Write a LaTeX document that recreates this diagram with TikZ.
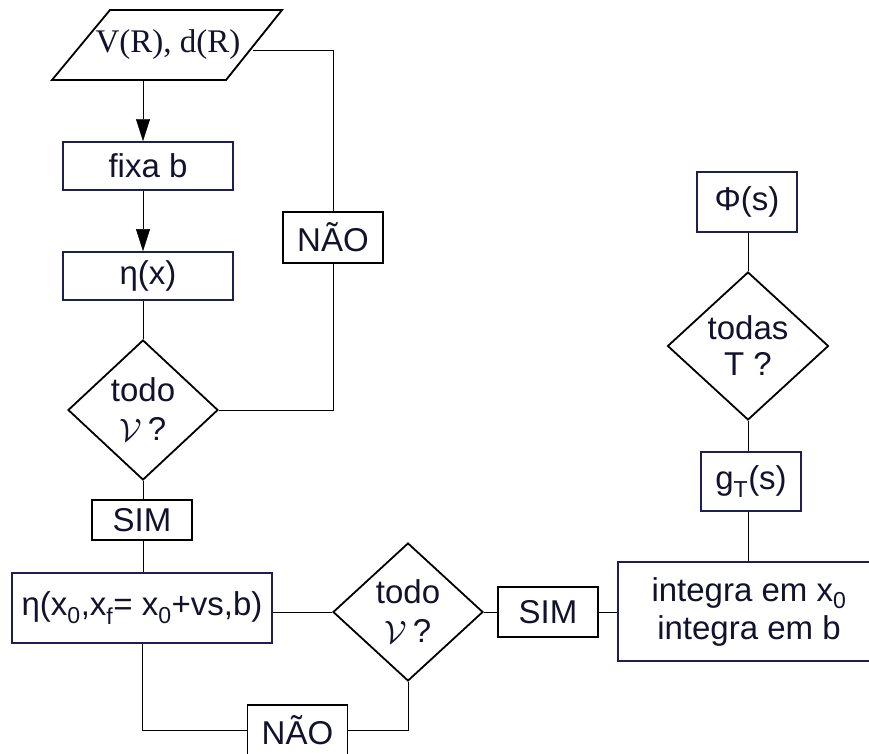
\documentclass[tikz,border=0pt]{standalone}
\usepackage{fontspec}
\setmainfont{Liberation Sans}
\newfontfamily\serifface{Liberation Serif}
\usetikzlibrary{shapes.geometric,arrows.meta,backgrounds}
\definecolor{ink}{HTML}{12122E}
\definecolor{navy}{HTML}{1E1E50}
\newcommand{\bigV}{\raisebox{-1pt}{\scalebox{1.3}{$\mathcal{V}$}}}
\begin{document}
\begin{tikzpicture}[x=1pt,y=-1pt,line width=1.8pt,
  every node/.style={font=\fontsize{33}{38}\selectfont, text=ink, inner sep=0pt, align=center},
  proc/.style={draw=navy, fill=white, rectangle},
  lbl/.style={draw=black, fill=white, rectangle, minimum width=100pt, minimum height=50pt},
  dec/.style={draw=black, fill=white, diamond},
  conn/.style={draw=black},
  arr/.style={draw=black, -{Triangle[length=22pt,width=14pt]}}]
\useasboundingbox (0,0) rectangle (869,754);
% input parallelogram
\draw[black, fill=white] (110,10) -- (282,10) -- (226,80) -- (52,80) -- cycle;
\node (inp) at (168,45) {\serifface V(R), d(R)};
\coordinate (pb) at (143,80);
\coordinate (pr) at (253,50);
% nodes
\node[proc, minimum width=170pt, minimum height=48pt] (fixa) at (148,166) {fixa b};
\node[proc, minimum width=170pt, minimum height=48pt] (eta) at (148,276) {η(x)};
\node[dec, minimum width=150pt, minimum height=140pt] (d1) at (143,410) {todo\\[1pt]\bigV\,?};
\node[lbl, minimum height=51pt] (nao1) at (333,237.5) {NÃO};
\node[lbl, minimum height=40pt] (sim1) at (142,520) {SIM};
\node[proc, minimum width=260pt, minimum height=70pt] (eta2) at (142,608) {η(x\textsubscript{0},x\textsubscript{f}= x\textsubscript{0}+vs,b)};
\node[dec, minimum width=150pt, minimum height=138pt] (d2) at (408,612) {todo\\[1pt]\bigV\,?};
\node[lbl] (sim2) at (548,612) {SIM};
\node[lbl] (nao2) at (297.5,730) {NÃO};
\node[proc, minimum width=262pt, minimum height=99pt] (integ) at (749,611.5) {integra em x\textsubscript{0}\\integra em b};
\node[proc, minimum width=100pt, minimum height=59pt] (gt) at (751,481.5) {g\textsubscript{T}(s)};
\node[dec, minimum width=161pt, minimum height=148pt] (d3) at (748,346) {todas\\[-2pt]T ?};
\node[proc, minimum width=100pt, minimum height=60pt] (phi) at (747,202) {Φ(s)};
% connectors
\begin{scope}[on background layer]
\draw[arr] (pb) -- (pb |- fixa.north);
\draw[arr] (fixa.south -| pb) -- (eta.north -| pb);
\draw[conn] (eta.south -| d1) -- (d1.north);
\draw[conn] (pr) -| (nao1.north);
\draw[conn] (nao1.south) |- (d1.east);
\draw[conn] (d1.south) -- (sim1.north -| d1);
\draw[conn] (sim1.south -| d1) -- (eta2.north -| d1);
\draw[conn] (eta2.east |- d2.west) -- (d2.west);
\draw[conn] (d2.east) -- (sim2.west |- d2.east);
\draw[conn] (sim2.east) -- (integ.west |- sim2.east);
\draw[conn] (eta2.south) |- (nao2.west);
\draw[conn] (nao2.east) -| (d2.south);
\draw[conn] (integ.north -| d3) -- (gt.south -| d3);
\draw[conn] (gt.north -| d3) -- (d3.south);
\draw[conn] (d3.north) -- (phi.south -| d3);
\end{scope}
\end{tikzpicture}
\end{document}
